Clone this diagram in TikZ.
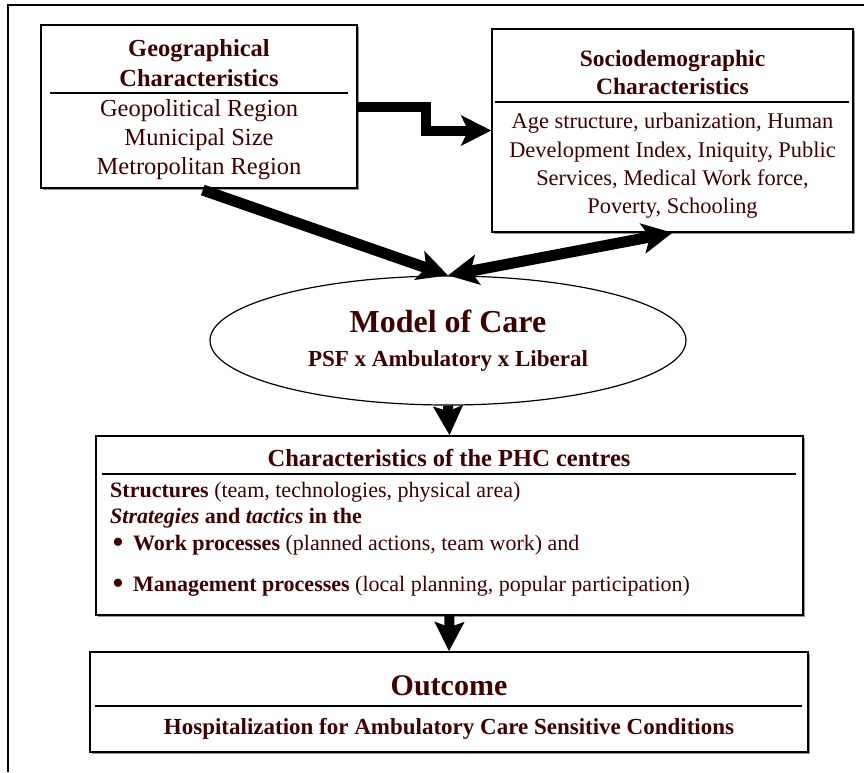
\documentclass[tikz,border=0pt]{standalone}
\usepackage{fontspec}
\setmainfont{Liberation Serif}
\usetikzlibrary{arrows.meta,shapes.geometric,shadows}
\definecolor{TextClr}{RGB}{64,0,0}
\definecolor{ShadowClr}{RGB}{150,150,150}
\newcommand{\bigbullet}{\hspace*{2pt}\makebox[21pt][l]{\raisebox{-3.5pt}{\fontsize{34}{24}\selectfont\textbullet}}}

\begin{document}
\begin{tikzpicture}[x=1pt,y=-1pt,
  bigtip/.tip={Stealth[length=30pt,width=30pt,inset=7pt]},
  smalltip/.tip={Stealth[length=29pt,width=29pt,inset=5pt]},
  box/.style={draw,line width=1.5pt,fill=white,inner sep=0pt,
    drop shadow={shadow xshift=1.5pt,shadow yshift=-1.5pt,fill=ShadowClr,opacity=1}},
  ttl/.style={text=TextClr,align=center,inner sep=0pt},
  txt/.style={text=TextClr,align=center,inner sep=0pt},
  sep/.style={line width=2.5pt},
  bigarrow/.style={line width=11pt},
  downarrow/.style={line width=10pt,-smalltip}]
\useasboundingbox (0,0) rectangle (864,772);

% Frame.
\draw[line width=1.5pt] (8,772) -- (8,5) -- (864,5);

% Boxes.
\node[box,minimum width=316pt,minimum height=163pt] (geo) at (199,106.5) {};
\node[box,minimum width=361pt,minimum height=203pt] (socio) at (672.5,130.5) {};
\node[box,minimum width=707pt,minimum height=179pt] (phc) at (449.5,525.5) {};
\node[box,minimum width=718pt,minimum height=100pt] (outcome) at (449,702) {};
\node[ellipse,draw,line width=1.2pt,fill=white,minimum width=476pt,minimum height=129pt,
  inner sep=0pt,text=TextClr,align=center,font=\bfseries\fontsize{23}{34}\selectfont]
  (model) at (448,340.5) {{\fontsize{32}{34}\selectfont Model of Care}\\PSF x Ambulatory x Liberal};

% Titles and contents.
\node[ttl,font=\bfseries\fontsize{24.5}{30}\selectfont] (geoTitle) at (199,63) {Geographical\\Characteristics};
\draw[sep] (50,93) -- (348,93);
\node[txt,font=\fontsize{24.5}{29}\selectfont] (geoBody) at (199,140)
  {Geopolitical Region\\Municipal Size\\Metropolitan Region};

\node[ttl,font=\bfseries\fontsize{23.5}{28}\selectfont] (socioTitle) at (672.5,72) {Sociodemographic\\Characteristics};
\draw[sep] (495,102) -- (849,102);
\node[txt,font=\fontsize{22.4}{28.3}\selectfont] (socioBody) at (672.5,166)
  {Age structure, urbanization, Human\\Development Index, Iniquity, Public\\Services, Medical Work force,\\Poverty, Schooling};

\node[ttl,font=\bfseries\fontsize{24.5}{30}\selectfont] (phcTitle) at (449,458) {Characteristics of the PHC centres};
\draw[sep] (102,474) -- (796,474);
\node[txt,align=left,anchor=north west,font=\fontsize{22}{24}\selectfont] (phcBody) at (110,482)
  {\textbf{Structures} (team, technologies, physical area)\\[2pt]
   \textbf{\textit{Strategies} and \textit{tactics} in the}\\[3pt]
   \bigbullet\textbf{Work processes} (planned actions, team work) and\\[17pt]
   \bigbullet\textbf{Management processes} (local planning, popular participation)};

\node[ttl,font=\bfseries\fontsize{30}{34}\selectfont] (outcomeTitle) at (449,686) {Outcome};
\draw[sep] (95,706) -- (802,706);
\node[ttl,font=\bfseries\fontsize{23}{28}\selectfont] (outcomeBody) at (449,729)
  {Hospitalization for Ambulatory Care Sensitive Conditions};

% Arrows.
\draw[bigarrow,line width=10pt,-bigtip] (geo.east) -- ++(68,0) |- (socio.west);
\draw[bigarrow,-bigtip,shorten <=4pt] (geo.south) -- (model.north);
\draw[bigarrow,bigtip-bigtip] (model.north) -- (socio.south);
\draw[downarrow] (model.south) -- (phc.north);
\draw[downarrow] (phc.south) -- (outcome.north);

\end{tikzpicture}
\end{document}
